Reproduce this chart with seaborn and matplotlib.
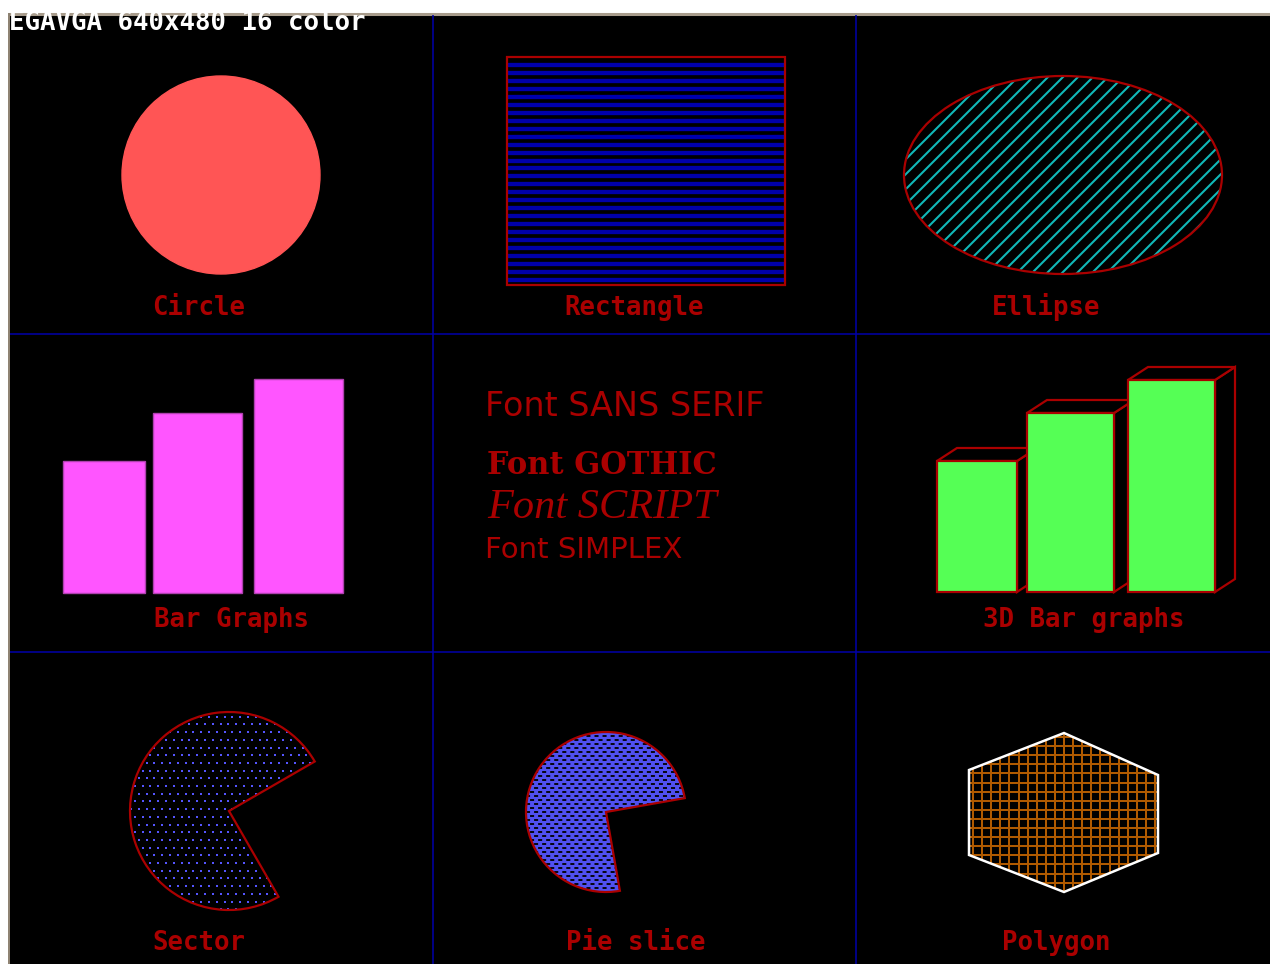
import numpy as np
import matplotlib
matplotlib.use("Agg")
import matplotlib.pyplot as plt
import seaborn as sns
from matplotlib.patches import Circle, Ellipse, Wedge, Polygon, Rectangle
from matplotlib.collections import LineCollection

sns.set_theme(style="dark")
plt.rcParams['font.family'] = ['DejaVu Sans']
plt.rcParams['lines.scale_dashes'] = False

# ---------------- data ----------------
header_text = "EGAVGA 640x480 16 color"
panel_labels = ["Circle", "Rectangle", "Ellipse", "Bar Graphs", "3D Bar graphs",
                "Sector", "Pie slice", "Polygon"]
label_x = [199, 634, 1046, 231, 1084, 199, 636, 1056]
label_y = [315, 315, 315, 627, 627, 950, 950, 950]

font_lines = ["Font SANS SERIF", "Font GOTHIC", "Font SCRIPT", "Font SIMPLEX"]

circle_center = (221, 175)
circle_radius = 99

rect_xy = (507, 57)
rect_size = (278, 228)

ellipse_center = (1063, 175)
ellipse_size = (318, 198)

bar_left = [63, 153, 254]
bar_width = [82, 89, 89]
bar_height = [132, 180, 214]
bar_base = 593

bar3d_left = [937, 1027, 1128]
bar3d_width = [80, 87, 87]
bar3d_height = [131, 179, 212]
bar3d_base = 592
bar3d_depth = (20, -13)

sector_center = (229, 811)
sector_radius = 99
sector_angles = (30, 300)      # screen angles, counter-clockwise

pie_center = (606, 812)
pie_radius = 80
pie_angles = (10, 280)

poly_x = [1064, 1158, 1158, 1064, 969, 969]
poly_y = [733, 775, 853, 892, 855, 770]

grid_x = [433, 856]
grid_y = [334, 652]

# ---------------- colours (EGA palette) ----------------
RED = '#AA0000'
LRED = '#FF5555'
BLUE = '#0000AA'
LBLUE = '#5555FF'
CYAN = '#00AAAA'
LMAG = '#FF55FF'
LGREEN = '#55FF55'
BROWN = '#B05A00'

W, H = 1270, 964
fig = plt.figure(figsize=(W / 100, H / 100), dpi=100, facecolor='white')
ax = fig.add_axes([0, 0, 1, 1])
ax.set_xlim(0, W)
ax.set_ylim(H, 0)
ax.axis('off')

# window
ax.add_patch(Rectangle((10, 15), W - 10, H - 15, fc='black', ec='none', zorder=0))
ax.plot([8, W], [13.5, 13.5], color='#A89C8C', lw=2.2, zorder=1, solid_capstyle='butt')
ax.plot([9, 9], [13, H], color='#8C8070', lw=1.4, zorder=1, solid_capstyle='butt')

# panel grid
ax.vlines(grid_x, 15, H, color=BLUE, lw=1.1, zorder=1)
ax.hlines(grid_y, 10, W, color=BLUE, lw=1.1, zorder=1)

mono = dict(family='DejaVu Sans Mono', weight='bold', size=18.5)
ax.text(9, 30, header_text, color='white', ha='left', va='baseline', zorder=6, **mono)
for s, x, y in zip(panel_labels, label_x, label_y):
    ax.text(x, y, s, color=RED, ha='center', va='baseline', zorder=6, **mono)

# circle
ax.add_patch(Circle(circle_center, circle_radius, fc=LRED, ec=LRED, lw=1, zorder=3))

# rectangle with line fill
rect = Rectangle(rect_xy, *rect_size, fc='none', ec=RED, lw=1.6, zorder=4)
ax.add_patch(rect)
ax.hlines(np.arange(rect_xy[1] + 8, rect_xy[1] + rect_size[1] - 2, 7.96),
          rect_xy[0] + 1, rect_xy[0] + rect_size[0] - 1, color=BLUE, lw=3.1, zorder=3)

# ellipse with diagonal hatch
ell = Ellipse(ellipse_center, *ellipse_size, fc='none', ec=RED, lw=1.6, zorder=4)
ax.add_patch(ell)
x0, x1 = ellipse_center[0] - 170, ellipse_center[0] + 170
segs = [[(x0, c - x0), (x1, c - x1)] for c in np.arange(960, 1520, 15)]
lc = LineCollection(segs, colors='#10B8B8', linewidths=1.5, zorder=3)
ax.add_collection(lc)
lc.set_clip_path(ell)

# 2D bar graph
ax.bar(bar_left, [-h for h in bar_height], width=bar_width, bottom=bar_base,
       align='edge', color=LMAG, edgecolor='#B040B0', linewidth=1, zorder=3)

# font demo
ax.text(485, 416, font_lines[0], color=RED, family='DejaVu Sans', size=24,
        ha='left', va='baseline', zorder=6)
ax.text(487, 474, font_lines[1], color=RED, family='DejaVu Serif', weight='bold',
        size=22, ha='left', va='baseline', zorder=6)
ax.text(487, 518, font_lines[2], color=RED, family=['Liberation Serif', 'DejaVu Serif'],
        style='italic', size=30.5, ha='left', va='baseline', zorder=6)
ax.text(485, 558, font_lines[3], color=RED, family='DejaVu Sans', size=21,
        ha='left', va='baseline', zorder=6)

# 3D bars
dx, dy = bar3d_depth
for i, (l, w, h) in enumerate(zip(bar3d_left, bar3d_width, bar3d_height)):
    r = l + w
    top = bar3d_base - h
    z = 3 + i * 0.1
    side = Polygon([(r, top), (r + dx, top + dy), (r + dx, bar3d_base + dy), (r, bar3d_base)],
                   closed=True, fc='black', ec=RED, lw=1.6, zorder=z)
    lid = Polygon([(l, top), (l + dx, top + dy), (r + dx, top + dy), (r, top)],
                  closed=True, fc='black', ec=RED, lw=1.6, zorder=z)
    ax.add_patch(side)
    ax.add_patch(lid)
    ax.bar([l], [-h], width=[w], bottom=bar3d_base, align='edge', color=LGREEN,
           edgecolor=RED, linewidth=1.6, zorder=z + 0.05)

# sector with dot fill
sec_fill = Wedge(sector_center, sector_radius, 360 - sector_angles[1], 360 - sector_angles[0],
                 fc='black', ec='none', zorder=2)
ax.add_patch(sec_fill)
ax.add_patch(Wedge(sector_center, sector_radius, 360 - sector_angles[1], 360 - sector_angles[0],
                   fc='none', ec=RED, lw=1.6, zorder=4))
gx, gy = [], []
for k, yy in enumerate(np.arange(sector_center[1] - 102, sector_center[1] + 104, 7.7)):
    off = 0 if k % 2 == 0 else 3.9
    xs = np.arange(sector_center[0] - 102 + off, sector_center[0] + 104, 7.8)
    gx.extend(xs)
    gy.extend([yy] * len(xs))
dots = ax.scatter(gx, gy, s=4.2, marker='s', color=LBLUE, linewidths=0, zorder=3)
dots.set_clip_path(sec_fill)

# pie slice with interleaved fill
pie = Wedge(pie_center, pie_radius, 360 - pie_angles[1], 360 - pie_angles[0],
            fc='#5050F0', ec='none', zorder=2)
ax.add_patch(pie)
ax.add_patch(Wedge(pie_center, pie_radius, 360 - pie_angles[1], 360 - pie_angles[0],
                   fc='none', ec=RED, lw=1.6, zorder=4))
rows = np.arange(pie_center[1] - 84, pie_center[1] + 86, 4)
for k, ls in enumerate([(0, (2.9, 2.9)), (2.9, (2.9, 2.9))]):
    hl = ax.hlines(rows[k::2], pie_center[0] - 84, pie_center[0] + 84,
                   color='black', lw=1.3, linestyles=[ls], zorder=3)
    hl.set_clip_path(pie)

# polygon with cross-hatch
verts = np.column_stack([poly_x, poly_y])
poly_fill = Polygon(verts, closed=True, fc='black', ec='none', zorder=2)
ax.add_patch(poly_fill)
ax.add_patch(Polygon(verts, closed=True, fc='none', ec='white', lw=1.8, zorder=4))
vx = np.arange(min(poly_x) + 4, max(poly_x), 9.1)
hy = np.arange(min(poly_y) + 4, max(poly_y), 9.1)
vl = ax.vlines(vx, min(poly_y), max(poly_y), color=BROWN, lw=1.45, zorder=3)
hl = ax.hlines(hy, min(poly_x), max(poly_x), color=BROWN, lw=1.45, zorder=3)
vl.set_clip_path(poly_fill)
hl.set_clip_path(poly_fill)

fig.savefig('out.png', dpi=100, facecolor='white')
